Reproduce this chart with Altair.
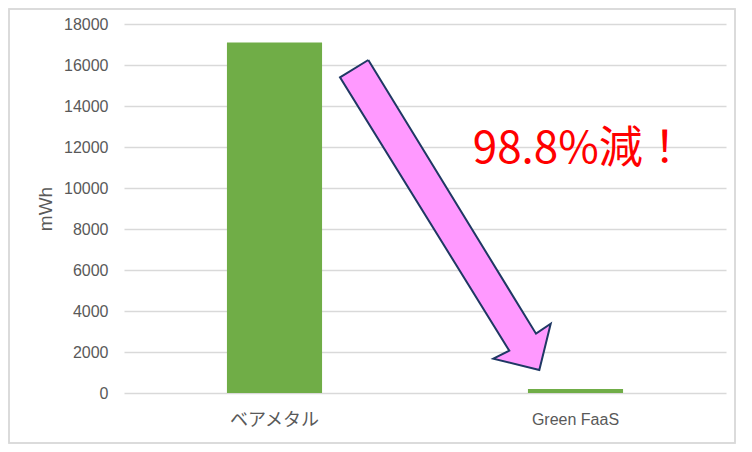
import altair as alt
import pandas as pd

# Bar data
categories = ["ベアメタル", "Green FaaS"]
energy_mwh = [17100, 200]

# Y axis ticks
y_ticks = [0, 2000, 4000, 6000, 8000, 10000, 12000, 14000, 16000, 18000]

# Arrow outline (x as fraction of plot width, y in mWh)
arrow_x = [0.4058, 0.6844, 0.7088, 0.6899, 0.6135, 0.6400, 0.3588, 0.4058]
arrow_y = [16244, 2893, 3380, 1122, 1673, 2063, 15400, 16244]

# Annotation
note_text = ["98.8%減！"]
note_x = [0.757]
note_y = [11205]

bars_df = pd.DataFrame({"cat": categories, "val": energy_mwh})
arrow_df = pd.DataFrame({"fx": arrow_x, "val": arrow_y, "i": list(range(len(arrow_x)))})
note_df = pd.DataFrame({"fx": note_x, "val": note_y, "t": note_text})

yscale = alt.Scale(domain=[0, 18000], nice=False, zero=True)
yaxis = alt.Axis(
    values=y_ticks, format="d", title="mWh", grid=True, gridColor="#d9d9d9", gridWidth=1.3,
    domain=False, ticks=False, labelPadding=16, labelFont="Liberation Sans",
    labelFontSize=16, labelColor="#595959", titleFont="Liberation Sans",
    titleFontSize=19, titleColor="#595959", titleFontWeight="normal",
    titlePadding=8,
)

bars = alt.Chart(bars_df).mark_bar(color="#70ad47").encode(
    x=alt.X("cat:N", sort=categories,
            scale=alt.Scale(paddingInner=0.684, paddingOuter=0.342),
            axis=alt.Axis(title=None, domain=False, ticks=False, grid=False,
                          labelAngle=0, labelPadding=18,
                          labelFont="Liberation Sans, Noto Sans CJK JP",
                          labelFontSize={"expr": "datum.value == 'ベアメタル' ? 18 : 16"},
                          labelColor="#595959")),
    y=alt.Y("val:Q", scale=yscale, axis=yaxis),
)

fxscale = alt.Scale(domain=[0, 1], nice=False, zero=False)

arrow = alt.Chart(arrow_df).mark_line(
    fill="#ff99ff", stroke="#1f3864", strokeWidth=2, strokeJoin="miter"
).encode(
    x=alt.X("fx:Q", scale=fxscale, axis=None),
    y=alt.Y("val:Q", scale=yscale, axis=yaxis),
    order=alt.Order("i:Q"),
)

note = alt.Chart(note_df).mark_text(
    color="#ff0000", fontSize=44, font="Noto Sans CJK JP", align="center",
    baseline="alphabetic"
).encode(
    x=alt.X("fx:Q", scale=fxscale, axis=None),
    y=alt.Y("val:Q", scale=yscale, axis=yaxis),
    text="t:N",
)

frame = alt.Chart(bars_df).mark_rect(
    filled=False, stroke="#d9d9d9", strokeWidth=1.5
).encode(
    x=alt.value(-115), x2=alt.value(611), y=alt.value(-15), y2=alt.value(419)
)

chart = alt.layer(bars, arrow, note, frame).resolve_scale(x="independent").properties(
    width=602, height=369,
    padding={"left": 116, "top": 16, "right": 10, "bottom": 51},
    autosize="none",
).configure_view(stroke=None)

chart.save("out.html", embed_options={"renderer": "svg", "actions": False})
